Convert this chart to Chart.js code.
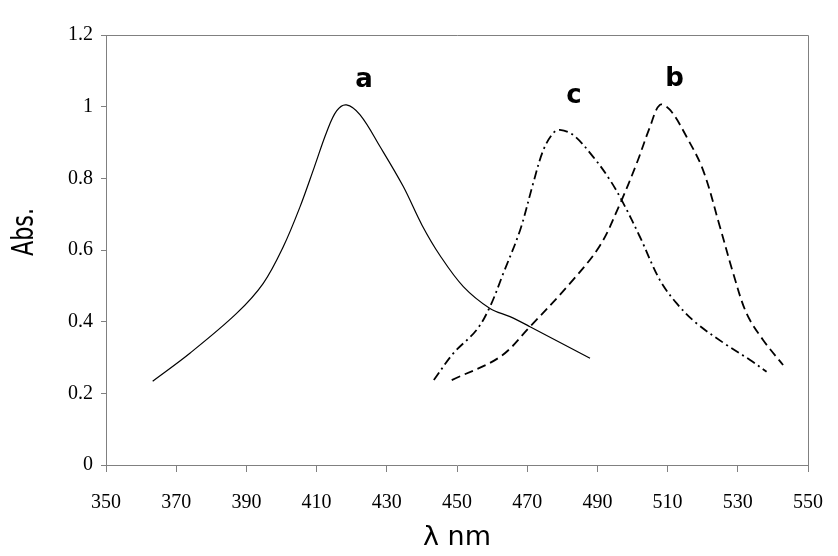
<!DOCTYPE html>
<html>
<head>
<meta charset="utf-8">
<script src="https://cdn.jsdelivr.net/npm/chart.js@4"></script>
<style>
  html, body { margin: 0; padding: 0; background: #fff; }
  #wrap { width: 838px; height: 556px; }
</style>
</head>
<body>
<div id="wrap"><canvas id="absChart" width="838" height="556"></canvas></div>
<script>
// ---------- data ----------
const aX = [363.3, 373.9, 387.2, 394.8, 400.5, 405.3, 409.3, 412.9, 415.7, 418.5, 422.4, 428.1, 434.7, 440.0, 445.2, 451.8, 459.4, 465.1, 470.8, 487.9];
const aY = [0.234, 0.312, 0.423, 0.507, 0.609, 0.721, 0.830, 0.930, 0.988, 1.005, 0.977, 0.888, 0.777, 0.670, 0.584, 0.498, 0.437, 0.414, 0.386, 0.298];

const bX = [448.5, 462.3, 470.8, 482.2, 490.7, 496.4, 501.2, 505.0, 507.8, 510.7, 515.4, 520.1, 524.9, 528.7, 532.5, 537.2, 542.9];
const bY = [0.237, 0.302, 0.386, 0.507, 0.612, 0.728, 0.842, 0.944, 1.005, 0.991, 0.916, 0.823, 0.665, 0.535, 0.423, 0.349, 0.279];

const cX = [443.4, 449.0, 455.6, 459.4, 463.2, 468.0, 471.7, 474.6, 477.4, 479.3, 483.1, 488.8, 493.6, 497.4, 502.1, 507.8, 512.6, 518.3, 526.8, 533.5, 538.2];
const cY = [0.237, 0.312, 0.377, 0.442, 0.535, 0.656, 0.786, 0.879, 0.926, 0.935, 0.921, 0.860, 0.795, 0.730, 0.637, 0.516, 0.451, 0.395, 0.335, 0.293, 0.260];

// curve letters and where they sit (data coords)
const curveNames = ['a', 'b', 'c'];
const nameX = [423.5, 512.0, 483.3];
const nameY = [1.075, 1.077, 1.029];

// axis ticks
const xTicks = [350, 370, 390, 410, 430, 450, 470, 490, 510, 530, 550];
const yTicks = [0, 0.2, 0.4, 0.6, 0.8, 1, 1.2];

const AXIS_GREY = '#808080';

function toPoints(xs, ys) {
  return xs.map((x, i) => ({ x: x, y: ys[i] }));
}

// ---------- plugin: plot frame, curve letters, axis titles ----------
const decorPlugin = {
  id: 'decor',
  afterDraw(chart) {
    const ctx = chart.ctx;
    const area = chart.chartArea;
    const xs = chart.scales.x, ys = chart.scales.y;
    ctx.save();

    // top + right edges of the plot box
    ctx.strokeStyle = AXIS_GREY;
    ctx.lineWidth = 1;
    ctx.beginPath();
    ctx.moveTo(area.left, area.top + 0.5);
    ctx.lineTo(area.right + 0.5, area.top + 0.5);
    ctx.lineTo(area.right + 0.5, area.bottom);
    ctx.stroke();

    // curve labels
    ctx.fillStyle = '#000';
    ctx.font = 'bold 26px "DejaVu Sans"';
    ctx.textAlign = 'center';
    ctx.textBaseline = 'middle';
    curveNames.forEach((n, i) => {
      ctx.fillText(n, xs.getPixelForValue(nameX[i]), ys.getPixelForValue(nameY[i]));
    });

    // x title
    ctx.font = '27px "DejaVu Sans"';
    ctx.fillText('λ nm', (area.left + area.right) / 2, 538);

    // y title (rotated, squeezed along the text like the narrow original)
    ctx.translate(25, 232);
    ctx.rotate(-Math.PI / 2);
    ctx.scale(0.72, 1);
    ctx.font = '31px "DejaVu Sans"';
    ctx.fillText('Abs.', 0, 0);
    ctx.restore();
  }
};

const lineBase = {
  borderColor: '#000',
  pointRadius: 0,
  fill: false,
  tension: 0.35
};

new Chart(document.getElementById('absChart').getContext('2d'), {
  type: 'line',
  data: {
    datasets: [
      Object.assign({ label: 'a', data: toPoints(aX, aY), borderWidth: 1.2 }, lineBase),
      Object.assign({ label: 'b', data: toPoints(bX, bY), borderWidth: 1.8, borderDash: [9, 5] }, lineBase),
      Object.assign({ label: 'c', data: toPoints(cX, cY), borderWidth: 1.8, borderDash: [9, 4, 2, 4] }, lineBase)
    ]
  },
  options: {
    responsive: false,
    animation: false,
    layout: { padding: { left: 0, top: 35, right: 30, bottom: 0 } },
    plugins: {
      legend: { display: false },
      tooltip: { enabled: false }
    },
    scales: {
      x: {
        type: 'linear',
        min: 350,
        max: 550,
        afterBuildTicks: s => { s.ticks = xTicks.map(v => ({ value: v })); },
        afterFit: s => { s.height = 91; s.paddingLeft = 0; s.paddingRight = 0; },
        grid: { drawOnChartArea: false, drawTicks: true, tickLength: 7, color: AXIS_GREY },
        border: { display: true, color: AXIS_GREY, width: 1 },
        ticks: {
          color: '#000',
          padding: 19,
          maxRotation: 0,
          font: { family: '"Liberation Serif", "Times New Roman", serif', size: 20 },
          callback: v => String(v)
        }
      },
      y: {
        type: 'linear',
        min: 0,
        max: 1.2,
        afterBuildTicks: s => { s.ticks = yTicks.map(v => ({ value: v })); },
        afterFit: s => { s.width = 106; s.paddingTop = 0; s.paddingBottom = 0; },
        grid: { drawOnChartArea: false, drawTicks: true, tickLength: 5, color: AXIS_GREY },
        border: { display: true, color: AXIS_GREY, width: 1 },
        ticks: {
          color: '#000',
          padding: 8,
          font: { family: '"Liberation Serif", "Times New Roman", serif', size: 20 },
          callback: v => String(Math.round(v * 10) / 10)
        }
      }
    }
  },
  plugins: [decorPlugin]
});
</script>
</body>
</html>
